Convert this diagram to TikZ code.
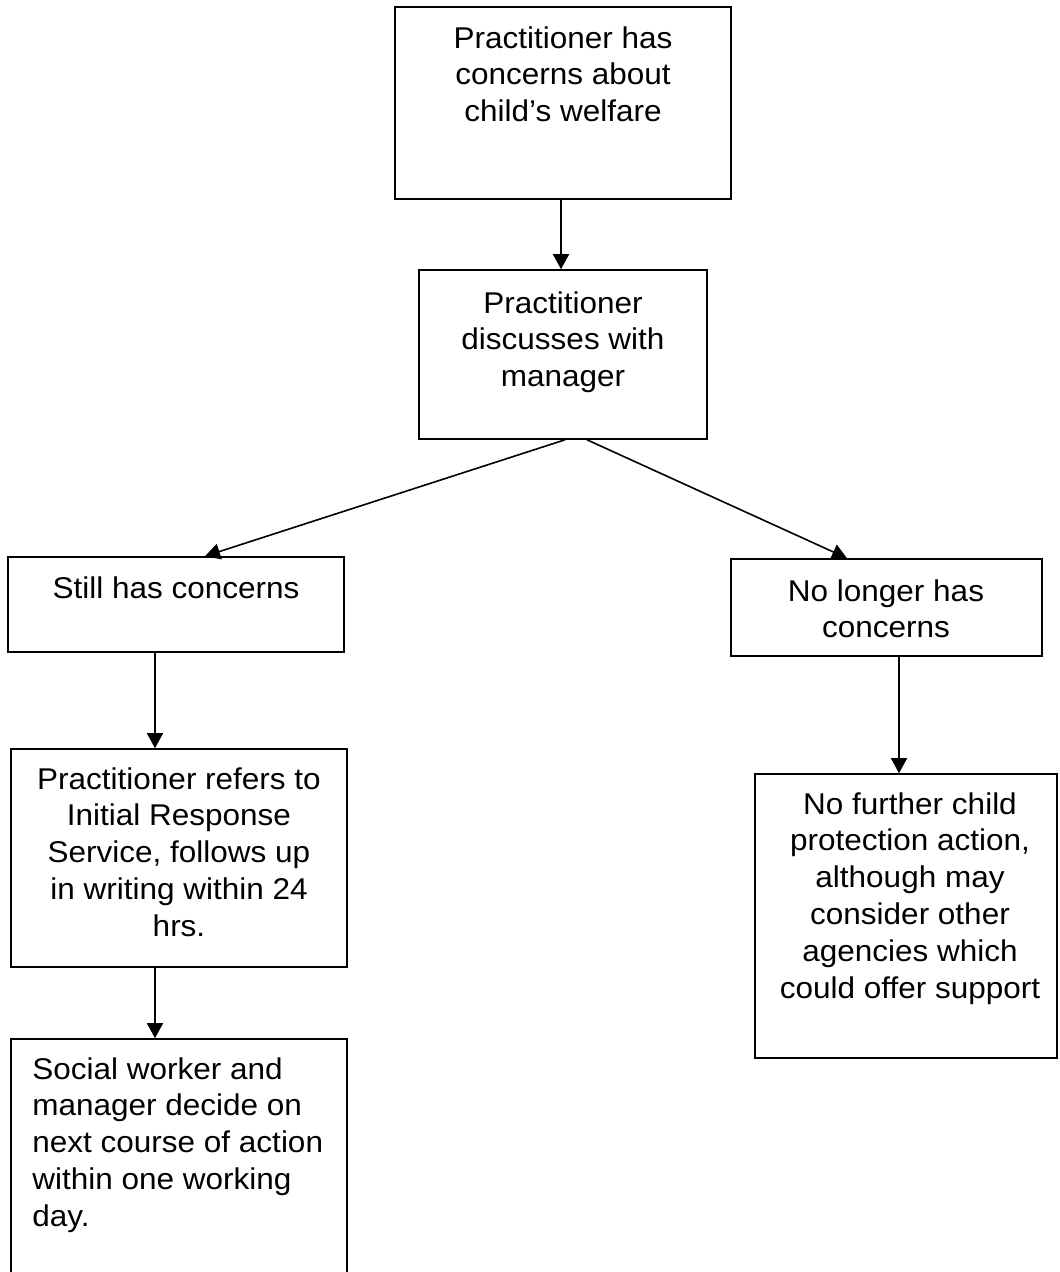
\documentclass[tikz,border=0pt]{standalone}
\usepackage{fontspec}
\setmainfont[FakeStretch=1.05]{Liberation Sans}
\usetikzlibrary{arrows.meta,fit}
\begin{document}
\begin{tikzpicture}[x=0.5pt,y=-0.5pt,
  box/.style={draw, line width=0.8pt, inner sep=0pt},
  txt/.style={inner sep=0pt, anchor=north, align=center, font=\fontsize{15pt}{18.4pt}\selectfont},
  ltxt/.style={inner sep=0pt, anchor=north west, align=left, font=\fontsize{15pt}{18.4pt}\selectfont},
  arr/.style={line width=0.8pt, -{Triangle[length=7.5pt,width=8pt]}}]
\useasboundingbox (0,0) rectangle (1059,1272);
% boxes
\node[box, fit={(395,7) (731,199)}] (b1) {};
\node[box, fit={(419,270) (707,439)}] (b2) {};
\node[box, fit={(8,557) (344,652)}] (b3) {};
\node[box, fit={(731,559) (1042,656)}] (b4) {};
\node[box, fit={(11,749) (347,967)}] (b6) {};
\node[box, fit={(11,1039) (347,1300)}] (b7) {};
\node[box, fit={(755,774) (1057,1058)}] (b5) {};
% texts
\node[txt] (t1) at (563,26) {Practitioner has\\concerns about\\child’s welfare};
\node[txt] (t2) at (563,291) {Practitioner\\discusses with\\manager};
\node[txt] (t3) at (176,576) {Still has concerns};
\node[txt] (t4) at (886,579) {No longer has\\concerns};
\node[txt] (t6) at (179,767) {Practitioner refers to\\Initial Response\\Service, follows up\\in writing within 24\\hrs.};
\node[ltxt] (t7) at (32,1057) {Social worker and\\manager decide on\\next course of action\\within one working\\day.};
\node[txt] (t5) at (910,792) {No further child\\protection action,\\although may\\consider other\\agencies which\\could offer support};
% connector columns
\coordinate (cA) at (561,0);
\coordinate (cL) at (155,0);
\coordinate (cR) at (899,0);
\coordinate (sL) at (565,0);
\coordinate (sR) at (587,0);
\coordinate (eL) at (205,0);
\coordinate (eR) at (847,0);
% connectors
\draw[arr] (b1.south -| cA) -- (b2.north -| cA);
\draw[arr] (b2.south -| sL) -- (b3.north -| eL);
\draw[arr] (b2.south -| sR) -- (b4.north -| eR);
\draw[arr] (b3.south -| cL) -- (b6.north -| cL);
\draw[arr] (b6.south -| cL) -- (b7.north -| cL);
\draw[arr] (b4.south -| cR) -- (b5.north -| cR);
\end{tikzpicture}
\end{document}
